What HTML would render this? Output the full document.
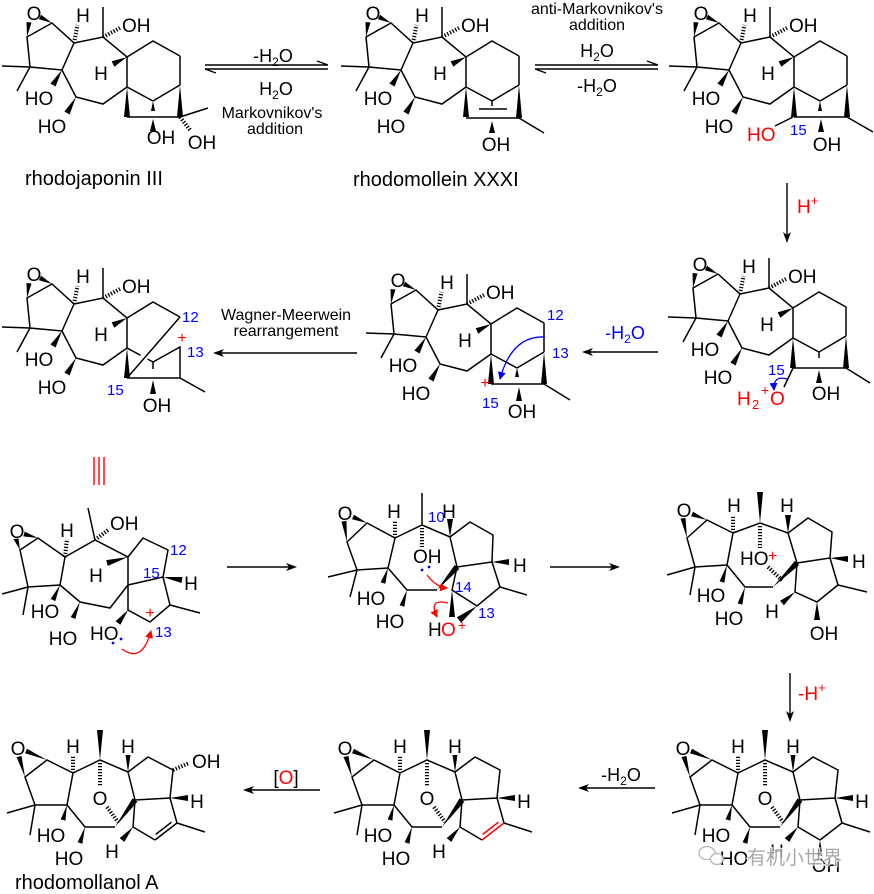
<!DOCTYPE html>
<html><head><meta charset="utf-8"><style>
html,body{margin:0;padding:0;background:#fff;}
svg{display:block;}
.t{font-family:"Liberation Sans",Arial,sans-serif;font-size:19px;fill:#000;}
.s{font-family:"Liberation Sans",Arial,sans-serif;font-size:16px;fill:#000;}
.n{font-family:"Liberation Sans",Arial,sans-serif;font-size:15px;fill:#0000ff;}
.b{fill:none;stroke:#000;stroke-width:1.5;stroke-linejoin:miter;}
.hs{stroke:#000;stroke-width:4;stroke-dasharray:1.3 1.7;fill:none;}
.ar{fill:none;stroke:#000;stroke-width:1.4;}
</style></head><body>
<svg width="874" height="894" viewBox="0 0 874 894" xmlns="http://www.w3.org/2000/svg">
<defs>
<marker id="mb" markerWidth="8" markerHeight="8" refX="7" refY="4" orient="auto" markerUnits="userSpaceOnUse"><path d="M0,0 L8,4 L0,8 z" fill="#0000ff"/></marker>
<marker id="mr" markerWidth="8" markerHeight="8" refX="7" refY="4" orient="auto" markerUnits="userSpaceOnUse"><path d="M0,0 L8,4 L0,8 z" fill="#ff0000"/></marker>
<g id="skA">
<path class="b" d="M27,37 L52,23 L74,43 L62,70 L30,67 Z M30,67 L2,66 M30,67 L17,91 M74,43 L103,37 L127,57 L153,41 L180,56 M103,37 L103,7 M127,57 L127,87 M62,70 L76,97 L103,104 L127,87 L153,101"/>
<polygon points="27,37 26.5,22 31.5,22.5"/>
<polygon points="52,23 41.1,14.8 38.9,19.2"/>
<line class="hs" x1="74" y1="43" x2="77.5" y2="25"/>
<line class="hs" x1="103" y1="37" x2="120" y2="28"/>
<polygon points="127,57 114.3,66.7 111.7,61.3"/>
<polygon points="62,70 55.6,86.5 50.4,83.5"/>
<polygon points="76,97 69.6,114.5 64.4,111.5"/>
<polygon points="127,87 124,117 130,117"/>
</g>
<g id="skB">
<path class="b" d="M25,777 L47,760 L73,773 L67,805 L35,805 Z M35,805 L7,813 M35,805 L30,835 M73,773 L100,760 L128,772 L148,757 L173,770 L170,798 L135,800 L128,772 M67,805 L85,827 L115,827 M170,798 L177,823 L205,832 M155,840 L133,827 L135,800"/>
<polygon points="25,777 16.5,757 21.5,756"/>
<polygon points="47,760 27,748.7 25,753.3"/>
<line class="hs" x1="73" y1="773" x2="73" y2="756"/>
<polygon points="100,760 97,730 103,730"/>
<line class="hs" x1="100" y1="763" x2="100" y2="787"/>
<line class="hs" x1="107" y1="807" x2="118" y2="822"/>
<polygon points="128,772 125.5,755 130.5,755"/>
<polygon points="170,798 188,795 188,801"/>
<polygon points="67,805 65.4,820.6 60.6,819.4"/>
<polygon points="85,827 82.4,843.7 77.6,842.3"/>
<polygon points="115,827 137.4,801.8 132.6,798.2"/>
<polygon points="133,827 124.3,841.9 119.7,838.1"/>
</g>
</defs>

<!-- ===== Structure 1: rhodojaponin III ===== -->
<g>
<use href="#skA"/>
<path class="b" d="M180,56 L180,85 M153,101 L180,85 M127,117 L180,117 M180,117 L208,108"/>
<polygon points="180,85 177,117 183,117"/>
<polygon points="153,101 151,111 155,111"/>
<polygon points="153,119 150,131 156,131"/>
<line class="hs" x1="180" y1="117" x2="190" y2="130"/>
<text class="t" x="34" y="20" text-anchor="middle">O</text>
<text class="t" x="83" y="22" text-anchor="middle">H</text>
<text class="t" x="122" y="32">OH</text>
<text class="t" x="101" y="80" text-anchor="middle">H</text>
<text class="t" x="39" y="105" text-anchor="middle">HO</text>
<text class="t" x="52" y="133" text-anchor="middle">HO</text>
<text class="t" x="161" y="144" text-anchor="middle">OH</text>
<text class="t" x="202" y="149" text-anchor="middle">OH</text>
</g>
<text class="t" x="25" y="185" style="font-size:20px">rhodojaponin III</text>

<!-- arrow 1 -->
<path class="ar" d="M205,65 L328,65 M328,65 L317,61 M205,69 L328,69 M205,69 L216,73"/>
<text class="t" x="273" y="62" text-anchor="middle" style="font-size:18px">-H<tspan dy="4" style="font-size:12px">2</tspan><tspan dy="-4">O</tspan></text>
<text class="t" x="276" y="95" text-anchor="middle" style="font-size:18px">H<tspan dy="4" style="font-size:12px">2</tspan><tspan dy="-4">O</tspan></text>
<text class="s" x="272" y="118" text-anchor="middle">Markovnikov's</text>
<text class="s" x="275" y="134" text-anchor="middle">addition</text>

<!-- ===== Structure 2: rhodomollein XXXI ===== -->
<g transform="translate(339,0)">
<use href="#skA"/>
<path class="b" d="M180,56 L180,85 M153,101 L180,85 M127,118 L180,118 M180,118 L205,133 M153,101 L153,106 M140,109 L168,109"/>
<polygon points="180,85 177,118 183,118"/>
<polygon points="153,121 150,133 156,133"/>
<text class="t" x="34" y="20" text-anchor="middle">O</text>
<text class="t" x="83" y="22" text-anchor="middle">H</text>
<text class="t" x="122" y="32">OH</text>
<text class="t" x="101" y="80" text-anchor="middle">H</text>
<text class="t" x="39" y="105" text-anchor="middle">HO</text>
<text class="t" x="52" y="133" text-anchor="middle">HO</text>
<text class="t" x="157" y="151" text-anchor="middle">OH</text>
</g>
<text class="t" x="353" y="186" style="font-size:20px">rhodomollein XXXI</text>

<!-- arrow 2 -->
<path class="ar" d="M535,65 L658,65 M658,65 L647,61 M535,69 L658,69 M535,69 L546,73"/>
<text class="s" x="597" y="14" text-anchor="middle">anti-Markovnikov's</text>
<text class="s" x="597" y="30" text-anchor="middle">addition</text>
<text class="t" x="597" y="57" text-anchor="middle" style="font-size:18px">H<tspan dy="4" style="font-size:12px">2</tspan><tspan dy="-4">O</tspan></text>
<text class="t" x="597" y="92" text-anchor="middle" style="font-size:18px">-H<tspan dy="4" style="font-size:12px">2</tspan><tspan dy="-4">O</tspan></text>

<!-- ===== Structure 3 ===== -->
<g transform="translate(667,0)">
<use href="#skA"/>
<path class="b" d="M180,56 L180,85 M153,101 L180,85 M127,117 L180,117 M180,117 L206,132 M126,117 L108,126"/>
<polygon points="180,85 177,117 183,117"/>
<polygon points="153,101 151,111 155,111"/>
<polygon points="154,119 151,132 157,132"/>
<text class="t" x="34" y="20" text-anchor="middle">O</text>
<text class="t" x="83" y="22" text-anchor="middle">H</text>
<text class="t" x="122" y="32">OH</text>
<text class="t" x="101" y="80" text-anchor="middle">H</text>
<text class="t" x="39" y="105" text-anchor="middle">HO</text>
<text class="t" x="52" y="133" text-anchor="middle">HO</text>
<text class="t" x="80" y="141" style="fill:#ff0000">HO</text>
<text class="n" x="123" y="135">15</text>
<text class="t" x="160" y="151" text-anchor="middle">OH</text>
</g>

<!-- down arrow H+ -->
<path class="ar" d="M787,183 L787,236"/>
<polygon points="787,243 783,232 787,235 791,232"/>
<text class="t" x="797" y="213" style="fill:#ff0000">H<tspan dy="-8" style="font-size:13px">+</tspan></text>

<!-- ===== Structure 4 (mid right) ===== -->
<g transform="translate(666,251)">
<use href="#skA"/>
<path class="b" d="M180,56 L180,85 M153,101 L180,85 M127,117 L180,117 M180,117 L204,132 M127,117 L118,136 M153,101 L153,107"/>
<polygon points="180,85 177,117 183,117"/>
<polygon points="153,119 150,132 156,132"/>
<path d="M121,128 Q107,124 108,139" fill="none" stroke="#0000ff" stroke-width="1.3" marker-end="url(#mb)"/>
<text class="t" x="34" y="20" text-anchor="middle">O</text>
<text class="t" x="83" y="22" text-anchor="middle">H</text>
<text class="t" x="122" y="32">OH</text>
<text class="t" x="101" y="80" text-anchor="middle">H</text>
<text class="t" x="39" y="105" text-anchor="middle">HO</text>
<text class="t" x="52" y="133" text-anchor="middle">HO</text>
<text class="n" x="102" y="124">15</text>
<text class="t" x="71" y="154" style="fill:#ff0000">H</text>
<text class="t" x="86" y="158" style="fill:#ff0000;font-size:13px">2</text>
<text class="t" x="95" y="144" style="fill:#ff0000;font-size:14px">+</text>
<text class="t" x="104" y="154" style="fill:#ff0000">O</text>
<text class="t" x="160" y="149" text-anchor="middle">OH</text>
</g>

<!-- blue -H2O arrow -->
<path class="ar" d="M658,352 L589,352"/>
<polygon points="582,352 593,348 590,352 593,356"/>
<text class="t" x="625" y="339" text-anchor="middle" style="fill:#0000ff;font-size:18px">-H<tspan dy="4" style="font-size:12px">2</tspan><tspan dy="-4">O</tspan></text>

<!-- ===== Structure 5 (mid center) ===== -->
<g transform="translate(364,267)">
<use href="#skA"/>
<path class="b" d="M180,56 L180,85 M153,101 L180,85 M127,117 L180,117 M180,117 L206,133"/>
<polygon points="180,85 177,117 183,117"/>
<polygon points="153,101 151,110 155,110"/>
<polygon points="155,120 152,134 158,134"/>
<path d="M181,70 Q148,68 136,112" fill="none" stroke="#0000ff" stroke-width="1.3" marker-end="url(#mb)"/>
<text class="t" x="34" y="20" text-anchor="middle">O</text>
<text class="t" x="83" y="22" text-anchor="middle">H</text>
<text class="t" x="122" y="32">OH</text>
<text class="t" x="101" y="80" text-anchor="middle">H</text>
<text class="t" x="39" y="105" text-anchor="middle">HO</text>
<text class="t" x="52" y="133" text-anchor="middle">HO</text>
<text class="n" x="183" y="53">12</text>
<text class="n" x="188" y="91">13</text>
<text class="t" x="121" y="121" text-anchor="middle" style="fill:#ff0000;font-size:16px">+</text>
<text class="n" x="118" y="141">15</text>
<text class="t" x="158" y="151" text-anchor="middle">OH</text>
</g>

<!-- Wagner-Meerwein arrow -->
<path class="ar" d="M357,353 L220,353"/>
<polygon points="213,353 224,349 221,353 224,357"/>
<text class="s" x="286" y="320" text-anchor="middle">Wagner-Meerwein</text>
<text class="s" x="286" y="336" text-anchor="middle">rearrangement</text>

<!-- ===== Structure 6 (mid left) ===== -->
<g transform="translate(0,261)">
<use href="#skA"/>
<line x1="140.5" y1="94.2" x2="147.5" y2="97.9" stroke="#fff" stroke-width="3"/>
<path class="b" d="M180,56 L127,117 M153,101 L180,86 L180,117 M127,117 L180,117 M180,117 L205,131 M153,101 L153,108"/>
<polygon points="153,119 150,133 156,133"/>
<text class="t" x="34" y="20" text-anchor="middle">O</text>
<text class="t" x="83" y="22" text-anchor="middle">H</text>
<text class="t" x="122" y="32">OH</text>
<text class="t" x="101" y="80" text-anchor="middle">H</text>
<text class="t" x="39" y="105" text-anchor="middle">HO</text>
<text class="t" x="52" y="133" text-anchor="middle">HO</text>
<text class="n" x="182" y="61">12</text>
<text class="t" x="182" y="82" text-anchor="middle" style="fill:#ff0000;font-size:16px">+</text>
<text class="n" x="187" y="96">13</text>
<text class="n" x="107" y="134">15</text>
<text class="t" x="157" y="151" text-anchor="middle">OH</text>
</g>

<!-- red equivalence -->
<path d="M94,457 L94,485 M99,457 L99,485 M104,457 L104,485" stroke="#ff0000" stroke-width="1.4" fill="none"/>

<!-- ===== Structure 7 (row 3 left) ===== -->
<path class="b" d="M20,550 L38,538 L65,557 L60,585 L28,587 Z M28,587 L2,594 M28,587 L23,615 M65,557 L95,540 L128,557 L143,538 L168,550 L163,577 L128,585 L128,557 M95,540 L88,508 M163,577 L170,605 L200,613 M170,605 L150,622 L128,610 L128,585 M60,585 L80,602 L110,608 L128,585"/>
<polygon points="20,550 13.5,539 18.5,538.5"/>
<polygon points="38,538 24.7,531.6 23.3,536.4"/>
<line class="hs" x1="65" y1="557" x2="67" y2="539"/>
<line class="hs" x1="95" y1="540" x2="108" y2="530"/>
<polygon points="128,557 107.8,565.9 106.2,560.1"/>
<polygon points="163,577 181.5,583 182.5,577"/>
<polygon points="60,585 55.3,601.1 50.7,598.9"/>
<polygon points="80,602 75.3,619 70.7,617"/>
<polygon points="128,610 120.4,624.8 115.6,621.2"/>
<text class="t" x="17" y="538" text-anchor="middle">O</text>
<text class="t" x="67" y="537" text-anchor="middle">H</text>
<text class="t" x="110" y="530">OH</text>
<text class="t" x="96" y="582" text-anchor="middle">H</text>
<text class="n" x="170" y="555">12</text>
<text class="n" x="143" y="578">15</text>
<text class="t" x="191" y="590" text-anchor="middle">H</text>
<text class="t" x="150" y="618" text-anchor="middle" style="fill:#ff0000;font-size:16px">+</text>
<text class="n" x="155" y="637">13</text>
<text class="t" x="90" y="640">HO</text>
<text class="t" x="45" y="618" text-anchor="middle">HO</text>
<text class="t" x="63" y="645" text-anchor="middle">HO</text>
<circle cx="113" cy="643" r="1.4" fill="#0000ff"/>
<circle cx="121" cy="639" r="1.4" fill="#0000ff"/>
<path d="M122,649 Q142,664 151,631" fill="none" stroke="#ff0000" stroke-width="1.3" marker-end="url(#mr)"/>

<!-- arrow -->
<path class="ar" d="M227,567 L290,567"/>
<polygon points="297,567 286,563 289,567 286,571"/>

<!-- ===== Structure 8 (row 3 middle) ===== -->
<path class="b" d="M347,542 L367,523 L395,538 L388,568 L357,570 Z M357,570 L328,577 M357,570 L350,597 M395,538 L422,525 L450,537 L470,522 L493,535 L492,562 L457,567 L450,537 M422,525 L422,493 M492,562 L500,587 L527,595 M500,587 L477,606 L452,590 L457,567 M388,568 L407,590 L437,590"/>
<polygon points="347,542 341.5,521.5 346.5,521"/>
<polygon points="367,523 354,514.7 352,519.3"/>
<line class="hs" x1="395" y1="538" x2="395" y2="520"/>
<line class="hs" x1="422" y1="528" x2="422" y2="547"/>
<polygon points="450,537 447,519 453,519"/>
<polygon points="492,562 509,559 509,565"/>
<polygon points="388,568 385.4,583.8 380.6,582.2"/>
<polygon points="407,590 404.4,606.7 399.6,605.3"/>
<polygon points="437,590 459.3,569 454.7,565"/>
<polygon points="452,590 449,617 455,617"/>
<polygon points="477,606 461.1,622.8 456.9,617.2"/>
<text class="t" x="345" y="520" text-anchor="middle">O</text>
<text class="t" x="394" y="518" text-anchor="middle">H</text>
<text class="n" x="428" y="522">10</text>
<text class="t" x="413" y="563">OH</text>
<text class="t" x="449" y="518" text-anchor="middle">H</text>
<text class="t" x="513" y="572">H</text>
<text class="n" x="455" y="592">14</text>
<text class="n" x="478" y="618">13</text>
<text class="t" x="371" y="605" text-anchor="middle">HO</text>
<text class="t" x="390" y="628" text-anchor="middle">HO</text>
<text class="t" x="428" y="636">H</text>
<text class="t" x="441" y="636" style="fill:#ff0000">O</text>
<text class="t" x="458" y="630" style="fill:#ff0000;font-size:14px">+</text>
<circle cx="422" cy="570" r="1.4" fill="#0000ff"/>
<circle cx="429" cy="567" r="1.4" fill="#0000ff"/>
<path d="M427,575 Q436,587 447,588" fill="none" stroke="#ff0000" stroke-width="1.3" marker-end="url(#mr)"/>
<path d="M448,603 Q428,598 437,617" fill="none" stroke="#ff0000" stroke-width="1.3" marker-end="url(#mr)"/>

<!-- arrow -->
<path class="ar" d="M550,567 L613,567"/>
<polygon points="620,567 609,563 612,567 609,571"/>

<!-- ===== Structure 9 (row 3 right) ===== -->
<path class="b" d="M687,538 L707,520 L733,533 L727,565 L695,567 Z M695,567 L667,575 M695,567 L690,595 M733,533 L760,523 L788,533 L808,518 L832,532 L830,558 L797,563 L788,533 M830,558 L838,585 L867,592 M838,585 L817,602 L795,592 L797,563 M727,565 L745,587 L773,587"/>
<polygon points="687,538 680.5,518.5 685.5,518"/>
<polygon points="707,520 693,511.7 691,516.3"/>
<line class="hs" x1="733" y1="533" x2="733" y2="516"/>
<polygon points="760,523 757,492 763,492"/>
<line class="hs" x1="760" y1="526" x2="760" y2="548"/>
<polygon points="788,533 785,515 791,515"/>
<polygon points="830,558 848,556 848,562"/>
<polygon points="817,602 814,620 820,620"/>
<polygon points="795,592 783.9,605.3 780.1,600.7"/>
<polygon points="727,565 724.4,582.7 719.6,581.3"/>
<polygon points="745,587 742.4,604.7 737.6,603.3"/>
<polygon points="773,587 799.1,565.1 794.9,560.9"/>
<line class="hs" x1="768" y1="567" x2="783" y2="581"/>
<text class="t" x="684" y="517" text-anchor="middle">O</text>
<text class="t" x="734" y="512" text-anchor="middle">H</text>
<text class="t" x="740" y="565">HO</text>
<text class="t" x="768" y="561" style="fill:#ff0000;font-size:16px">+</text>
<text class="t" x="787" y="512" text-anchor="middle">H</text>
<text class="t" x="852" y="568">H</text>
<text class="t" x="772" y="618" text-anchor="middle">H</text>
<text class="t" x="824" y="640" text-anchor="middle">OH</text>
<text class="t" x="711" y="602" text-anchor="middle">HO</text>
<text class="t" x="729" y="625" text-anchor="middle">HO</text>

<!-- down arrow -H+ -->
<path class="ar" d="M790,673 L790,715"/>
<polygon points="790,722 786,711 790,714 794,711"/>
<text class="t" x="798" y="700" style="fill:#ff0000">-H<tspan dy="-8" style="font-size:13px">+</tspan></text>

<!-- ===== Structure 10 (bottom right) ===== -->
<g transform="translate(665,0)">
<use href="#skB"/>
<path class="b" d="M177,823 L155,840"/>
<polygon points="155,840 152.5,856 157.5,856"/>
<text class="t" x="18" y="755" text-anchor="middle">O</text>
<text class="t" x="73" y="753" text-anchor="middle">H</text>
<text class="t" x="100" y="805" text-anchor="middle">O</text>
<text class="t" x="128" y="753" text-anchor="middle">H</text>
<text class="t" x="197" y="808" text-anchor="middle">H</text>
<text class="t" x="112" y="858" text-anchor="middle">H</text>
<text class="t" x="51" y="842" text-anchor="middle">HO</text>
<text class="t" x="69" y="865" text-anchor="middle">HO</text>
<text class="t" x="161" y="872" text-anchor="middle">OH</text>
</g>

<!-- arrow -H2O -->
<path class="ar" d="M655,788 L585,788"/>
<polygon points="578,788 589,784 586,788 589,792"/>
<text class="t" x="621" y="781" text-anchor="middle" style="font-size:18px">-H<tspan dy="4" style="font-size:12px">2</tspan><tspan dy="-4">O</tspan></text>

<!-- ===== Structure 11 (bottom middle) ===== -->
<g transform="translate(327,0)">
<use href="#skB"/>
<path d="M177,823 L155,840 M171.5,822.2 L155.7,834.4" stroke="#ff0000" stroke-width="1.5" fill="none"/>
<text class="t" x="18" y="755" text-anchor="middle">O</text>
<text class="t" x="73" y="753" text-anchor="middle">H</text>
<text class="t" x="100" y="805" text-anchor="middle">O</text>
<text class="t" x="128" y="753" text-anchor="middle">H</text>
<text class="t" x="197" y="808" text-anchor="middle">H</text>
<text class="t" x="112" y="858" text-anchor="middle">H</text>
<text class="t" x="51" y="842" text-anchor="middle">HO</text>
<text class="t" x="69" y="865" text-anchor="middle">HO</text>
</g>

<!-- [O] arrow -->
<path class="ar" d="M320,790 L250,790"/>
<polygon points="243,790 254,786 251,790 254,794"/>
<text class="t" x="286" y="784" text-anchor="middle">[<tspan style="fill:#ff0000">O</tspan>]</text>

<!-- ===== Structure 12: rhodomollanol A ===== -->
<g>
<use href="#skB"/>
<path class="b" d="M177,823 L155,840 M171.5,822.2 L155.7,834.4"/>
<line class="hs" x1="173" y1="770" x2="189" y2="763"/>
<text class="t" x="18" y="755" text-anchor="middle">O</text>
<text class="t" x="73" y="753" text-anchor="middle">H</text>
<text class="t" x="100" y="805" text-anchor="middle">O</text>
<text class="t" x="128" y="753" text-anchor="middle">H</text>
<text class="t" x="192" y="768">OH</text>
<text class="t" x="197" y="808" text-anchor="middle">H</text>
<text class="t" x="112" y="858" text-anchor="middle">H</text>
<text class="t" x="51" y="842" text-anchor="middle">HO</text>
<text class="t" x="69" y="865" text-anchor="middle">HO</text>
</g>
<text class="t" x="15" y="889" style="font-size:20px">rhodomollanol A</text>

<!-- watermark -->
<g opacity="0.85">
<ellipse cx="707" cy="853" rx="8" ry="6.5" fill="none" stroke="#aaa" stroke-width="1.3"/>
<ellipse cx="717" cy="859" rx="6.5" ry="5.5" fill="#fff" stroke="#aaa" stroke-width="1.3"/>
<text x="747" y="864" style="font-family:'Liberation Sans','Noto Sans CJK SC',sans-serif;font-size:19px;fill:#9a9a9a;stroke:#fff;stroke-width:2.5;paint-order:stroke;">有机小世界</text>
</g>
</svg>
</body></html>
